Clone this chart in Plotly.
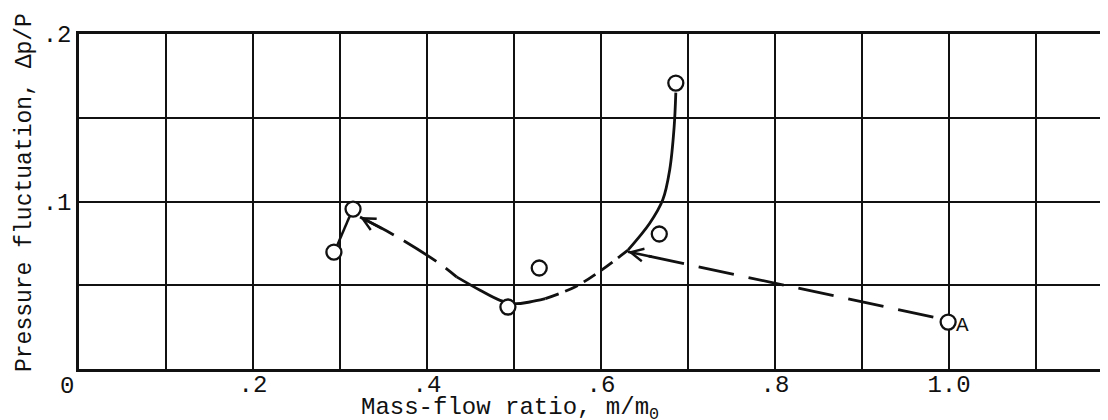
import plotly.graph_objects as go

# ---- data ----
mass_flow = [0.293, 0.315, 0.493, 0.529, 0.667, 0.686, 0.999]
pressure = [0.0698, 0.0955, 0.037, 0.0603, 0.0806, 0.1707, 0.028]

# short solid link between the two left points
link_x = [0.297, 0.311]
link_y = [0.074, 0.091]

# dashed path toward the left point (long dashes)
path1_x = [0.323, 0.366, 0.417, 0.434]
path1_y = [0.0907, 0.0788, 0.062, 0.055]
# solid portion around the minimum
path2_x = [0.434, 0.461, 0.484, 0.501, 0.518, 0.536]
path2_y = [0.055, 0.047, 0.041, 0.039, 0.040, 0.042]
# short-dash portion rising to the right
path3_x = [0.536, 0.570, 0.599, 0.631]
path3_y = [0.042, 0.049, 0.0585, 0.071]
# solid rise to the top point
path4_x = [0.631, 0.656, 0.671, 0.679, 0.684, 0.686]
path4_y = [0.071, 0.087, 0.101, 0.119, 0.144, 0.165]

# dashed straight line from point A
lineA_x = [0.982, 0.631]
lineA_y = [0.031, 0.070]

x_ticks = [0.0, 0.1, 0.2, 0.3, 0.4, 0.5, 0.6, 0.7, 0.8, 0.9, 1.0, 1.1]
x_text = ["", "", ".2", "", ".4", "", ".6", "", ".8", "", "1.0", ""]
y_ticks = [0.0, 0.05, 0.1, 0.15, 0.2]
y_text = ["", "", ".1", "", ".2"]

FONT = "Courier New, Liberation Mono, monospace"
INK = "#111111"

fig = go.Figure()

def add_line(xs, ys, dash, width=2.8):
    fig.add_trace(go.Scatter(x=xs, y=ys, mode="lines",
                             line=dict(color=INK, width=width, dash=dash, shape="spline"),
                             hoverinfo="skip", showlegend=False))

add_line(link_x, link_y, "solid", 2.5)
add_line(path1_x, path1_y, "38px,12px")
add_line(path2_x, path2_y, "solid")
add_line(path3_x, path3_y, "14px,7px")
add_line(path4_x, path4_y, "solid")
add_line(lineA_x, lineA_y, "36px,15px")

fig.add_trace(go.Scatter(x=mass_flow, y=pressure, mode="markers",
                         marker=dict(symbol="circle", size=15, color="white",
                                     line=dict(color=INK, width=2.3)),
                         showlegend=False))

# arrowheads
for tip_x, tip_y, tail_x, tail_y in [(path1_x[0], path1_y[0], 0.35, 0.0833),
                                      (lineA_x[1], lineA_y[1], 0.66, 0.0668)]:
    fig.add_annotation(x=tip_x, y=tip_y, ax=tail_x, ay=tail_y,
                       xref="x", yref="y", axref="x", ayref="y",
                       text="", showarrow=True, arrowhead=5, arrowsize=1,
                       arrowwidth=2.5, arrowcolor=INK, standoff=0)

# label A
fig.add_annotation(x=1.016, y=0.0257, xref="x", yref="y", text="A", showarrow=False,
                   font=dict(family=FONT, size=21, color=INK),
                   xanchor="center", yanchor="middle")

# "0" label at origin
fig.add_annotation(x=0, y=0, xref="x", yref="y", text="0", showarrow=False,
                   xshift=-12, yshift=-17,
                   font=dict(family=FONT, size=24, color=INK),
                   xanchor="center", yanchor="middle")

# axis titles
fig.add_annotation(x=(510 - 79) / 1029, y=(369 - 409) / 335, xref="paper", yref="paper",
                   text="Mass-flow ratio, m/m<sub>0</sub>", showarrow=False,
                   font=dict(family=FONT, size=24, color=INK),
                   xanchor="center", yanchor="middle")
fig.add_annotation(x=(25 - 79) / 1029, y=(369 - 193) / 335, xref="paper", yref="paper",
                   text="Pressure fluctuation, \u0394p/P", showarrow=False, textangle=-90,
                   font=dict(family=FONT, size=23, color=INK),
                   xanchor="center", yanchor="middle")

fig.update_xaxes(range=[0, (1108 - 79) / 870], tickvals=x_ticks, ticktext=x_text,
                 showgrid=True, gridcolor=INK, gridwidth=2, automargin=False,
                 showline=True, linecolor=INK, linewidth=2.5, mirror=True,
                 zeroline=False, ticks="", ticklabelstandoff=-9,
                 tickfont=dict(family=FONT, size=24, color=INK))
fig.update_yaxes(range=[0, 0.2], tickvals=y_ticks, ticktext=y_text,
                 showgrid=True, gridcolor=INK, gridwidth=2, automargin=False,
                 showline=True, linecolor=INK, linewidth=2.5, mirror=False,
                 zeroline=False, ticks="",
                 tickfont=dict(family=FONT, size=24, color=INK))

# page body has an 8px default margin, so the figure is offset by 8px
fig.update_layout(width=1100, height=412, margin=dict(l=71, r=0, t=26, b=51, autoexpand=False),
                  plot_bgcolor="white", paper_bgcolor="white", showlegend=False)

fig.write_html("out.html")
